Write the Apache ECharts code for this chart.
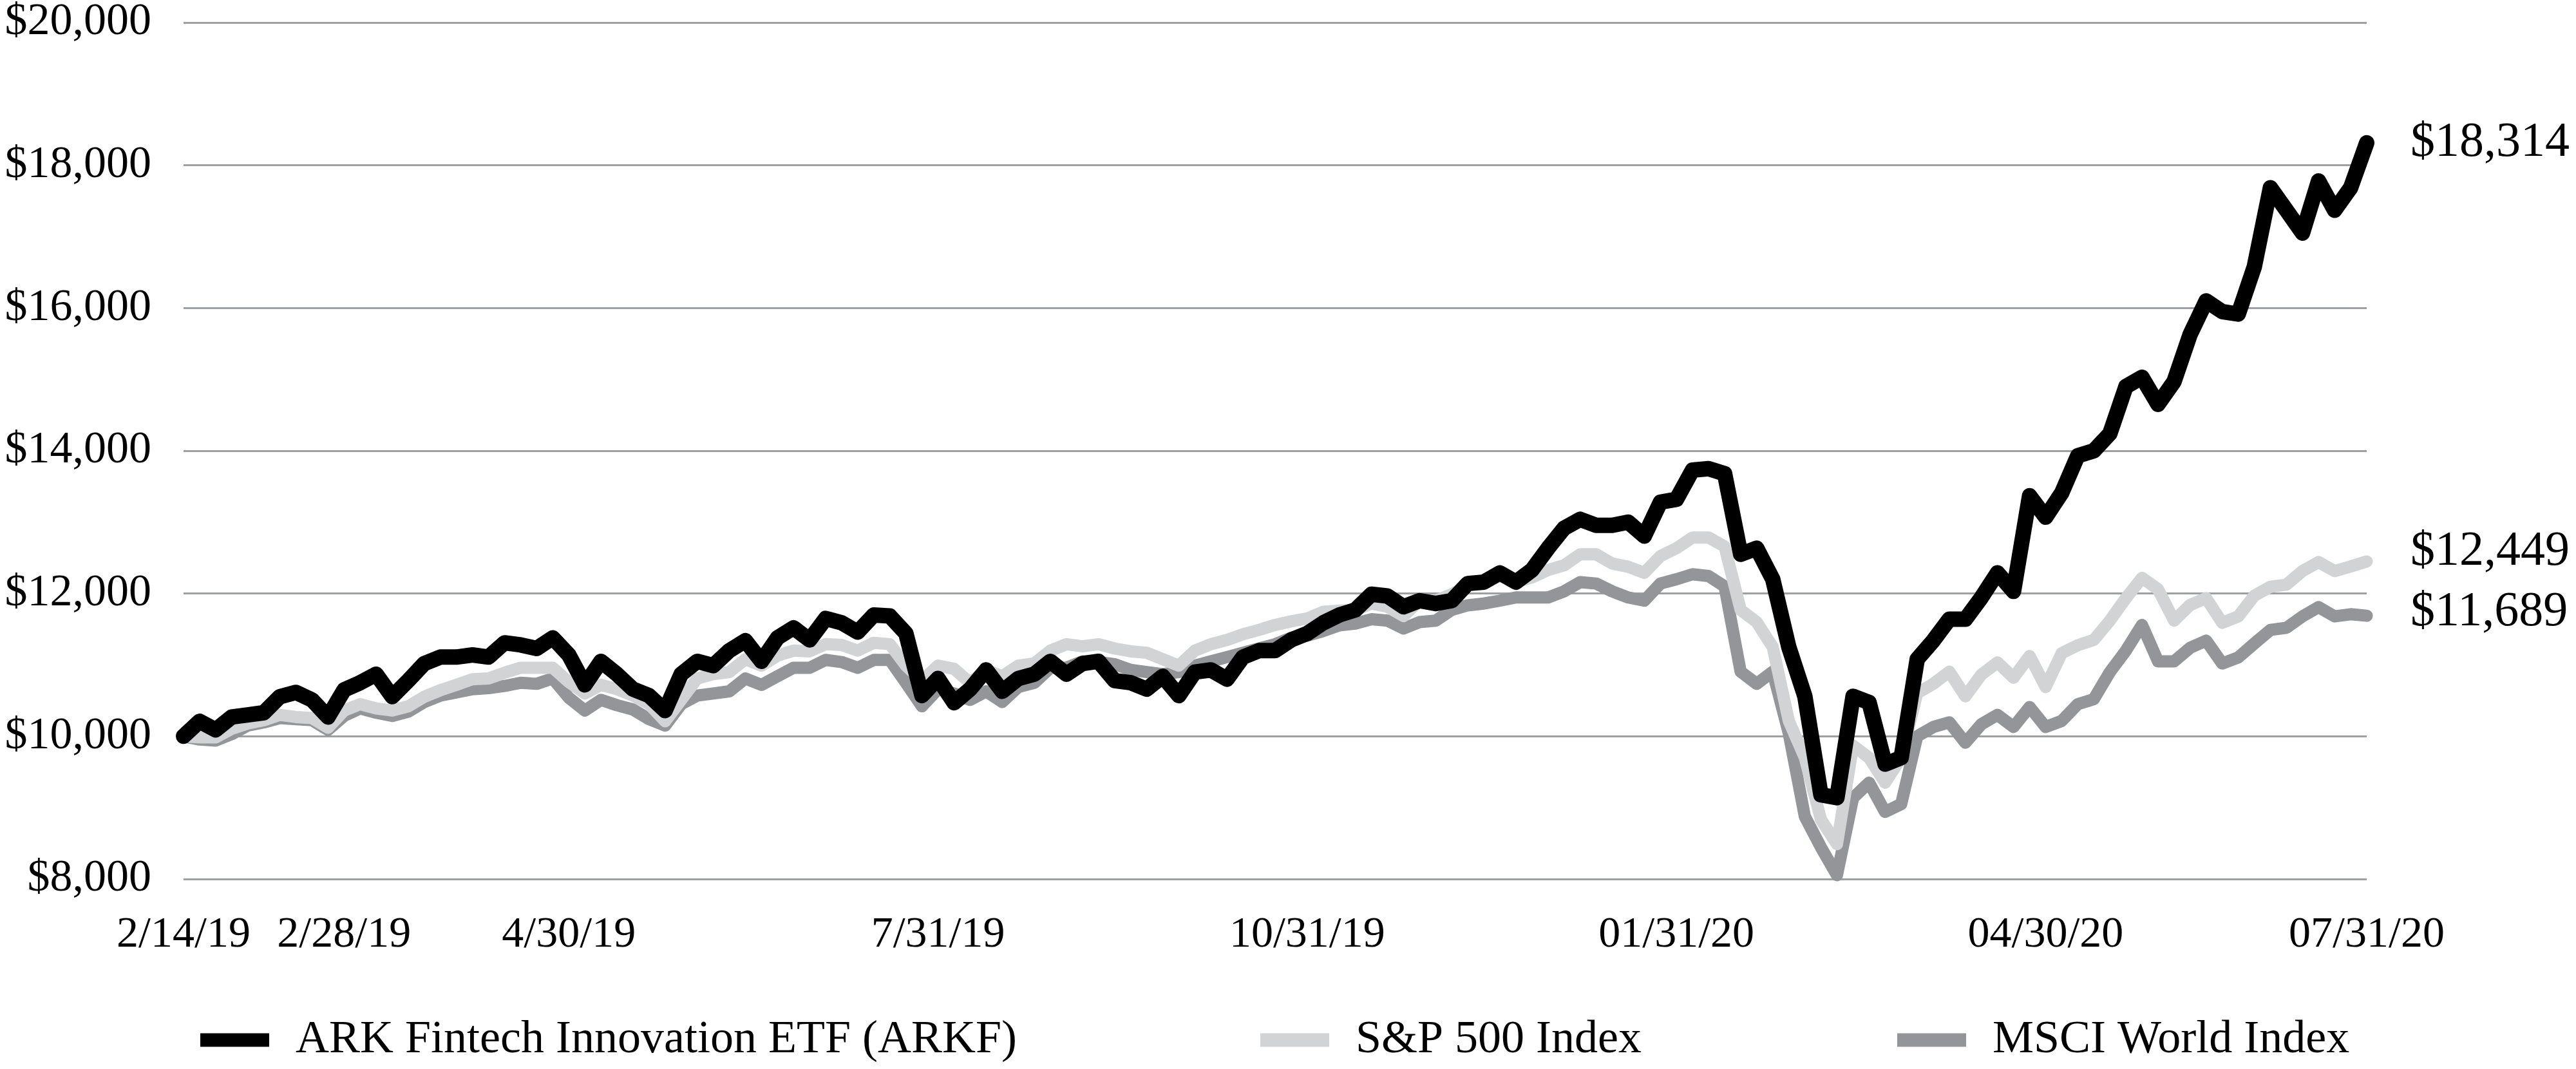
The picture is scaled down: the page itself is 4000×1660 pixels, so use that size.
<!DOCTYPE html>
<html>
<head>
<meta charset="utf-8">
<script src="https://cdn.jsdelivr.net/npm/echarts@6/dist/echarts.min.js"></script>
<style>
html, body { margin: 0; padding: 0; background: #fff; }
#chart { width: 4000px; height: 1660px; }
</style>
</head>
<body>
<div id="chart"></div>
<script>
// growth of $10,000 (evenly spaced samples)
var arkf = [10000,10210,10090,10270,10300,10330,10555,10615,10510,10270,
  10650,10750,10870,10555,10780,11020,11110,11110,11140,11110,
  11310,11280,11230,11380,11140,10720,11050,10870,10660,10570,
  10360,10870,11050,10990,11200,11340,11050,11380,11520,11350,
  11650,11590,11460,11700,11685,11440,10570,10810,10470,10660,
  10930,10630,10810,10870,11050,10870,11020,11050,10780,10750,
  10660,10840,10570,10900,10930,10800,11110,11200,11200,11350,
  11440,11590,11700,11770,11990,11965,11815,11900,11860,11900,
  12140,12160,12290,12160,12330,12635,12915,13040,12955,12955,
  13000,12805,13280,13320,13730,13750,13680,12550,12635,12200,
  11250,10560,9180,9140,10560,10475,9610,9700,11080,11340,
  11640,11640,11945,12290,12030,13370,13070,13410,13930,14000,
  14240,14900,15030,14650,14970,15630,16100,15950,15915,16580,
  17685,17370,17050,17780,17370,17685,18314];

var sp500 = [10000,9985,9985,10105,10180,10225,10300,10270,10255,10120,
  10360,10450,10390,10360,10420,10555,10645,10720,10800,10810,
  10890,10960,10960,10960,10760,10600,10720,10660,10570,10450,
  10210,10510,10810,10870,10900,11080,10990,11130,11200,11190,
  11290,11280,11200,11310,11290,10990,10780,10990,10945,10750,
  10930,10840,10990,11020,11200,11290,11260,11290,11230,11190,
  11170,11080,10990,11200,11290,11350,11430,11490,11560,11610,
  11650,11745,11760,11770,11860,11815,11685,11900,11900,11990,
  12115,12160,12245,12160,12225,12330,12395,12550,12550,12420,
  12375,12290,12525,12635,12785,12785,12660,11770,11600,11250,
  10215,9700,8835,8490,9870,9700,9350,9700,10605,10735,
  10905,10560,10865,11035,10820,11125,10690,11165,11275,11350,
  11620,11935,12220,12060,11620,11840,11935,11590,11680,11970,
  12095,12125,12315,12440,12315,12380,12449];

var msci = [10000,9955,9940,10030,10150,10195,10255,10240,10225,10090,
  10285,10390,10330,10285,10345,10480,10570,10615,10660,10675,
  10705,10750,10735,10810,10540,10360,10510,10435,10375,10240,
  10150,10450,10570,10600,10630,10810,10720,10840,10960,10960,
  11070,11040,10960,11070,11070,10750,10420,10660,10600,10510,
  10630,10480,10690,10750,10960,10960,11050,11040,11010,10930,
  10900,10870,10900,10990,11050,11110,11170,11230,11290,11380,
  11410,11475,11555,11580,11640,11620,11510,11600,11620,11770,
  11835,11860,11900,11945,11945,11945,12030,12160,12140,12030,
  11945,11900,12140,12200,12270,12245,12100,10905,10735,10905,
  10040,8875,8445,8055,9135,9350,8940,9050,10000,10130,
  10195,9910,10170,10300,10130,10410,10130,10215,10450,10520,
  10900,11200,11560,11050,11050,11240,11340,11020,11105,11300,
  11490,11520,11680,11810,11680,11710,11689];

var seriesNames = ['ARK Fintech Innovation ETF (ARKF)', 'S&P 500 Index', 'MSCI World Index'];
var tickIndex = [0, 10, 24, 47, 70, 93, 116, 136];
var tickLabels = ['2/14/19', '2/28/19', '4/30/19', '7/31/19', '10/31/19', '01/31/20', '04/30/20', '07/31/20'];

var serif = "'Liberation Serif', 'DejaVu Serif', serif";
var money = function (v) { return '$' + Number(v).toLocaleString('en-US'); };
var slots = arkf.map(function (v, i) { return String(i); });

var chart = echarts.init(document.getElementById('chart'));

var legendBase = function (name, left) {
    return {
        data: [name],
        left: left,
        top: 1574,
        icon: 'rect',
        itemWidth: 107,
        itemHeight: 21,
        itemStyle: { borderWidth: 0 },
        textStyle: { fontFamily: serif, fontSize: 72, color: '#000', padding: [0, 0, 0, 36] }
    };
};

var lineSeries = function (name, data, color, width, offsetY) {
    return {
        name: name,
        type: 'line',
        data: data,
        symbol: 'none',
        color: color,
        lineStyle: { color: color, width: width, cap: 'round', join: 'round' },
        endLabel: {
            show: true,
            formatter: function (p) { return money(p.value); },
            fontFamily: serif,
            fontSize: 76,
            color: '#000',
            distance: 68,
            offset: [0, offsetY]
        },
        emphasis: { disabled: true }
    };
};

chart.setOption({
    animation: false,
    backgroundColor: '#fff',
    grid: { left: 285, right: 325, top: 35, bottom: 295 },
    legend: [
        legendBase(seriesNames[0], 306),
        legendBase(seriesNames[1], 1952),
        legendBase(seriesNames[2], 2941)
    ],
    xAxis: {
        type: 'category',
        data: slots,
        boundaryGap: false,
        axisLine: { show: false },
        axisTick: { show: false },
        axisLabel: {
            interval: function (index) { return tickIndex.indexOf(index) >= 0; },
            formatter: function (value, index) {
                var k = tickIndex.indexOf(index);
                return k >= 0 ? tickLabels[k] : '';
            },
            fontFamily: serif,
            fontSize: 68,
            color: '#000',
            margin: 53
        }
    },
    yAxis: {
        type: 'value',
        min: 8000,
        max: 20000,
        interval: 2000,
        axisLine: { show: false },
        axisTick: { show: false },
        splitLine: { lineStyle: { color: '#9d9fa2', width: 3 } },
        axisLabel: {
            formatter: money,
            fontFamily: serif,
            fontSize: 70,
            color: '#000',
            margin: 50
        }
    },
    series: [
        lineSeries(seriesNames[2], msci, '#939598', 19, -5),
        lineSeries(seriesNames[1], sp500, '#d1d3d4', 19, -15),
        lineSeries(seriesNames[0], arkf, '#000000', 24, 0)
    ]
});
</script>
</body>
</html>
